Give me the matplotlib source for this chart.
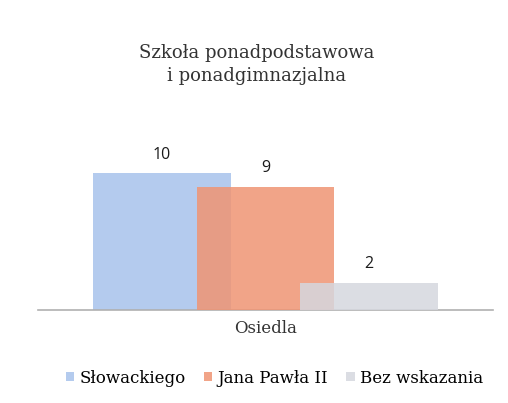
import matplotlib.pyplot as plt
from matplotlib.patches import Patch

# data
category = 'Osiedla'
series = ['Słowackiego', 'Jana Pawła II', 'Bez wskazania']
values = [10, 9, 2]
colors = ['#a7c2ec', '#ef9473', '#d5d7df']

fig = plt.figure(figsize=(5.08, 4.03), dpi=100)
ax = fig.add_axes([0.0748, 0.2308, 0.8957, 0.4218])

width = 0.302
step = 0.2275
for i, (name, v, c) in enumerate(zip(series, values, colors)):
    x = (i - 1) * step
    ax.bar(x, v, width=width, color=c, alpha=0.85, zorder=2 + i)
    ax.text(x, v + 0.75, str(v), ha='center', va='bottom',
            fontsize=11.5, family='Open Sans', color='#1a1a1a')

ax.set_xlim(-0.5, 0.5)
ax.set_ylim(0, 12.4)
ax.set_xticks([0])
ax.set_xticklabels([category], fontsize=12, family='DejaVu Serif', color='#333333')
ax.tick_params(axis='x', length=0, pad=7)
ax.set_yticks([])
for s in ['top', 'right', 'left']:
    ax.spines[s].set_visible(False)
ax.spines['bottom'].set_color('#b0b0b0')
ax.spines['bottom'].set_linewidth(1.2)

fig.text(0.505, 0.84, 'Szkoła ponadpodstawowa\ni ponadgimnazjalna',
         ha='center', va='center', fontsize=13, family='DejaVu Serif',
         color='#333333', linespacing=1.3)

handles = [Patch(facecolor=c, alpha=0.85) for c in colors]
fig.legend(handles, series, loc='center', bbox_to_anchor=(0.54, 0.062), ncol=3,
           frameon=False, handlelength=0.5, handleheight=0.5, handletextpad=0.3,
           columnspacing=1.1, prop={'family': 'DejaVu Serif', 'size': 12})

fig.savefig('out.png', dpi=100, facecolor='white')
